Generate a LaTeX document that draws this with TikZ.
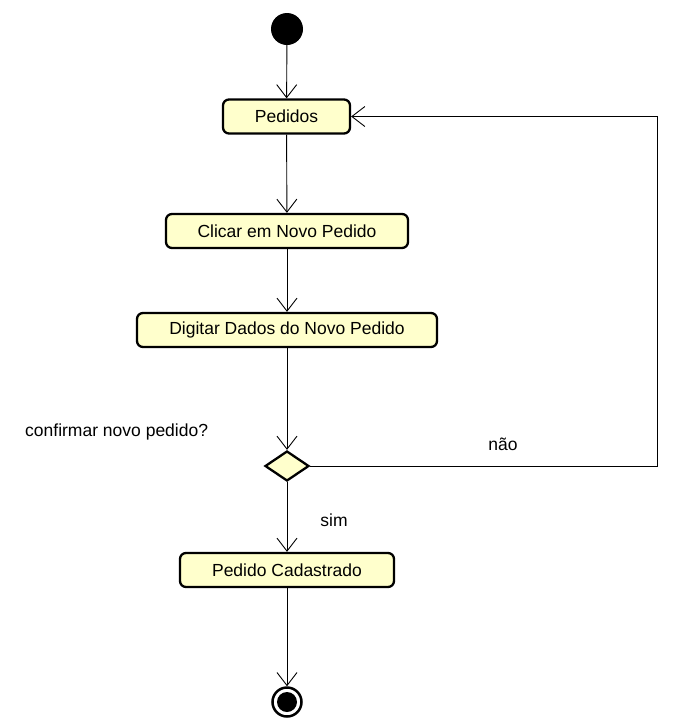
\documentclass[tikz,border=0pt]{standalone}
\usepackage{fontspec}
\setmainfont{Liberation Sans}
\usetikzlibrary{arrows.meta,shapes.geometric}
\definecolor{caixa}{HTML}{FFFFCC}

\begin{document}
\begin{tikzpicture}[x=1pt,y=-1pt,
	acao/.style={draw,line width=2.3pt,rounded corners=6pt,fill=caixa,
		minimum height=34pt,inner sep=0pt,font=\fontsize{17.5}{20}\selectfont},
	rotulo/.style={inner sep=0pt,font=\fontsize{17.5}{20}\selectfont},
	seta/.style={-{Straight Barb[length=13pt,width=20pt]},line width=0.9pt}]
\useasboundingbox (0,0) rectangle (675,724);
%%%  nodes
\node (ini) [circle,fill=black,minimum size=32pt,inner sep=0pt] at (287,29) {};
\node (pedidos) [acao,minimum width=127pt] at (286.5,116.5) {Pedidos};
\node (clicar) [acao,minimum width=242pt] at (287,231) {Clicar em Novo Pedido};
\node (digitar) [acao,minimum width=300pt] at (287,330) {Digitar Dados do Novo Pedido};
\node (decisao) [diamond,draw,line width=2.3pt,fill=caixa,inner sep=0pt,
	minimum width=44pt,minimum height=30pt] at (287,466) {};
\node (cadastrado) [acao,minimum width=214pt] at (287,570) {Pedido Cadastrado};
\node (fim) [circle,draw,line width=2.5pt,minimum size=29pt,inner sep=0pt] at (287,702) {};
\node (fimdentro) [circle,fill=black,minimum size=20pt,inner sep=0pt] at (fim) {};
\coordinate (volta) at (657,466);

%%%%%%%%% labels %%%%%%%%
\node (pergunta) [rotulo,anchor=west] at (25,432) {confirmar novo pedido?};
\node (nao) [rotulo] at (503,444) {não};
\node (sim) [rotulo] at (334,520) {sim};

%%%%%%%%% draw flows %%%%%%%%
\draw[seta] (ini) -- (pedidos);
\draw[seta] (pedidos) -- (clicar);
\draw[seta] (clicar) -- (digitar);
\draw[seta] (digitar) -- (decisao);
\draw[seta] (decisao) -- (cadastrado);
\draw[seta] (cadastrado) -- (fim);
\draw[seta] (decisao.east) -- (volta) |- (pedidos.east);
\end{tikzpicture}
\end{document}
